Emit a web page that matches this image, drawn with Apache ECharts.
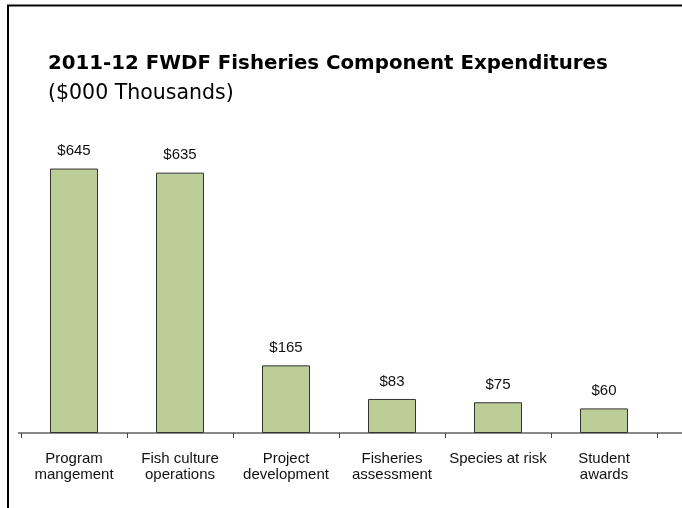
<!DOCTYPE html>
<html>
<head>
<meta charset="utf-8">
<script src="https://cdn.jsdelivr.net/npm/echarts@6/dist/echarts.min.js"></script>
<style>
html,body{margin:0;padding:0;background:#fff;}
#chart{width:682px;height:508px;}
</style>
</head>
<body>
<div id="chart"></div>
<script>
var titleText = '2011-12 FWDF Fisheries Component Expenditures';
var subtitleText = '($000 Thousands)';
var categories = ['Program\nmangement', 'Fish culture\noperations', 'Project\ndevelopment', 'Fisheries\nassessment', 'Species at risk', 'Student\nawards'];
var values = [645, 635, 165, 83, 75, 60];

var chart = echarts.init(document.getElementById('chart'));
chart.setOption({
  backgroundColor: '#ffffff',
  animation: false,
  title: [
    {
      text: titleText,
      left: 48, top: 54, padding: 0,
      textStyle: { fontFamily: 'DejaVu Sans', fontWeight: 'bold', fontSize: 19.8, color: '#000' }
    },
    {
      text: subtitleText,
      left: 48, top: 83, padding: 0,
      textStyle: { fontFamily: 'DejaVu Sans', fontWeight: 'normal', fontSize: 20.5, color: '#000' }
    }
  ],
  grid: { left: 21, right: 25, top: 146, bottom: 75, containLabel: false },
  xAxis: {
    type: 'category',
    data: categories,
    axisLine: { show: true, lineStyle: { color: '#888888', width: 2 } },
    axisTick: { show: true, length: 5, lineStyle: { color: '#444444', width: 1 } },
    axisLabel: {
      interval: 0, margin: 18,
      fontFamily: 'Liberation Sans', fontSize: 15, lineHeight: 16, color: '#111'
    }
  },
  yAxis: {
    type: 'value', min: 0, max: 700, show: false,
    splitLine: { show: false }
  },
  series: [{
    type: 'bar',
    data: values,
    barWidth: 48,
    itemStyle: { color: '#bccd97', borderColor: '#333333', borderWidth: 1 },
    label: {
      show: true, position: 'top', distance: 10,
      formatter: '$' + '{c}',
      fontFamily: 'Liberation Sans', fontSize: 15, color: '#111'
    }
  }],
  graphic: [
    { type: 'rect', shape: { x: 8, y: 5.5, width: 720, height: 600 }, style: { fill: 'none', stroke: '#000', lineWidth: 2 } },
    { type: 'line', shape: { x1: 657, y1: 433, x2: 682, y2: 433 }, style: { stroke: '#888888', lineWidth: 2 } },
    { type: 'line', shape: { x1: 18, y1: 433, x2: 21, y2: 433 }, style: { stroke: '#888888', lineWidth: 2 } }
  ]
});
</script>
</body>
</html>
